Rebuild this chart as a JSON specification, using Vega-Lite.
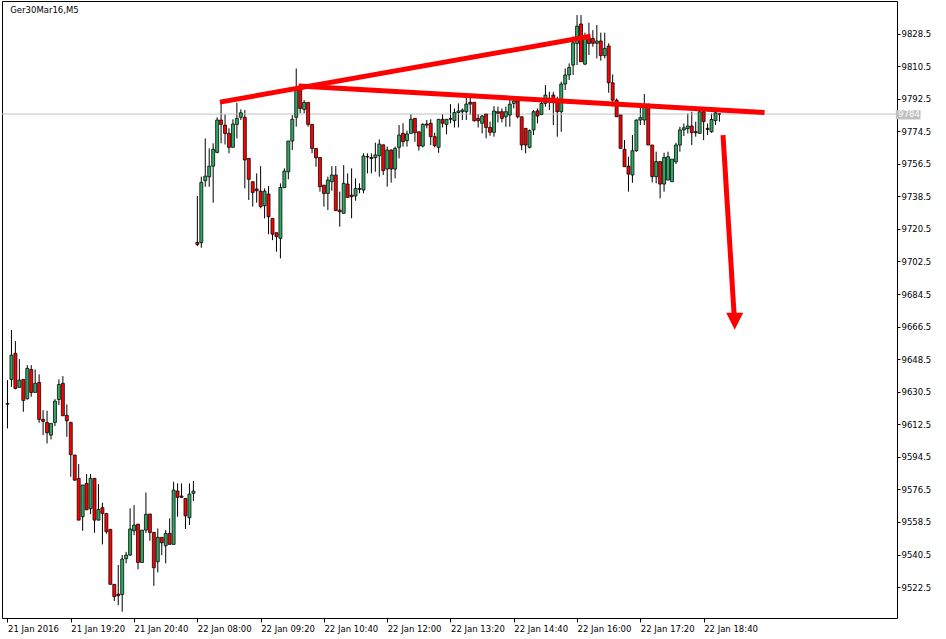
{
  "$schema": "https://vega.github.io/schema/vega-lite/v6.json",
  "width": 895,
  "height": 617,
  "autosize": {"type": "none"},
  "padding": {"left": 2, "top": 1, "right": 49, "bottom": 21},
  "background": "white",
  "config": {"view": {"stroke": "black", "strokeWidth": 1}, "font": "DejaVu Sans",
    "axis": {"domain": false, "grid": false, "tickColor": "black", "labelColor": "black", "labelFont": "DejaVu Sans", "labelFontSize": 8.5, "labelFlush": false, "labelOverlap": false, "labelBound": false}},
  "datasets": {
    "candles": [
      {"i":0,"o":9624.0,"h":9636.9,"l":9610.2,"c":9623.6},
      {"i":1,"o":9637.3,"h":9664.6,"l":9633.2,"c":9650.7},
      {"i":2,"o":9651.7,"h":9658.5,"l":9631.8,"c":9632.3},
      {"i":3,"o":9632.9,"h":9648.5,"l":9632.9,"c":9636.9},
      {"i":4,"o":9637.3,"h":9637.3,"l":9619.4,"c":9625.7},
      {"i":5,"o":9626.6,"h":9645.2,"l":9626.2,"c":9643.4},
      {"i":6,"o":9642.8,"h":9645.2,"l":9627.7,"c":9630.1},
      {"i":7,"o":9630.1,"h":9642.8,"l":9630.1,"c":9635.1},
      {"i":8,"o":9635.6,"h":9640.1,"l":9613.3,"c":9615.2},
      {"i":9,"o":9615.2,"h":9620.3,"l":9606.5,"c":9614.1},
      {"i":10,"o":9613.5,"h":9620.0,"l":9601.9,"c":9607.8},
      {"i":11,"o":9606.5,"h":9613.0,"l":9604.1,"c":9613.0},
      {"i":12,"o":9613.5,"h":9626.4,"l":9611.5,"c":9625.3},
      {"i":13,"o":9626.2,"h":9637.3,"l":9623.1,"c":9634.5},
      {"i":14,"o":9635.1,"h":9639.1,"l":9617.2,"c":9617.2},
      {"i":15,"o":9617.4,"h":9623.5,"l":9605.6,"c":9614.4},
      {"i":16,"o":9613.5,"h":9613.9,"l":9583.5,"c":9595.7},
      {"i":17,"o":9595.5,"h":9595.5,"l":9581.3,"c":9581.6},
      {"i":18,"o":9582.6,"h":9590.5,"l":9559.5,"c":9559.5},
      {"i":19,"o":9561.4,"h":9578.9,"l":9553.6,"c":9578.9},
      {"i":20,"o":9579.8,"h":9585.0,"l":9565.2,"c":9565.2},
      {"i":21,"o":9565.8,"h":9585.0,"l":9562.8,"c":9582.6},
      {"i":22,"o":9582.6,"h":9582.6,"l":9552.5,"c":9559.5},
      {"i":23,"o":9559.5,"h":9579.4,"l":9559.5,"c":9565.4},
      {"i":24,"o":9566.4,"h":9569.1,"l":9546.1,"c":9563.2},
      {"i":25,"o":9563.2,"h":9563.2,"l":9552.0,"c":9553.1},
      {"i":26,"o":9554.4,"h":9554.4,"l":9524.0,"c":9524.0},
      {"i":27,"o":9524.0,"h":9524.0,"l":9514.8,"c":9517.2},
      {"i":28,"o":9518.6,"h":9534.7,"l":9512.5,"c":9517.7},
      {"i":29,"o":9518.4,"h":9540.2,"l":9508.9,"c":9538.0},
      {"i":30,"o":9538.2,"h":9542.0,"l":9535.6,"c":9540.2},
      {"i":31,"o":9540.2,"h":9566.0,"l":9539.8,"c":9554.6},
      {"i":32,"o":9553.6,"h":9567.8,"l":9551.2,"c":9556.8},
      {"i":33,"o":9557.3,"h":9557.3,"l":9532.3,"c":9536.1},
      {"i":34,"o":9536.1,"h":9554.0,"l":9536.1,"c":9554.0},
      {"i":35,"o":9554.0,"h":9574.8,"l":9552.5,"c":9562.7},
      {"i":36,"o":9562.9,"h":9562.9,"l":9548.1,"c":9552.7},
      {"i":37,"o":9552.7,"h":9552.7,"l":9523.2,"c":9533.2},
      {"i":38,"o":9536.5,"h":9554.9,"l":9530.6,"c":9550.0},
      {"i":39,"o":9550.0,"h":9550.0,"l":9540.2,"c":9547.0},
      {"i":40,"o":9545.3,"h":9554.0,"l":9535.6,"c":9552.2},
      {"i":41,"o":9552.2,"h":9560.5,"l":9546.1,"c":9546.1},
      {"i":42,"o":9546.1,"h":9580.7,"l":9546.1,"c":9576.1},
      {"i":43,"o":9575.6,"h":9579.8,"l":9561.4,"c":9572.1},
      {"i":44,"o":9572.8,"h":9579.8,"l":9571.9,"c":9572.1},
      {"i":45,"o":9571.5,"h":9571.5,"l":9554.6,"c":9561.9},
      {"i":46,"o":9560.8,"h":9579.8,"l":9556.8,"c":9573.9},
      {"i":47,"o":9574.3,"h":9581.1,"l":9570.0,"c":9575.6},
      {"i":48,"o":9713.0,"h":9738.7,"l":9711.0,"c":9711.9},
      {"i":49,"o":9712.9,"h":9749.4,"l":9710.1,"c":9746.2},
      {"i":50,"o":9747.1,"h":9770.5,"l":9743.8,"c":9749.7},
      {"i":51,"o":9749.3,"h":9765.0,"l":9743.8,"c":9755.2},
      {"i":52,"o":9755.2,"h":9767.8,"l":9735.0,"c":9764.5},
      {"i":53,"o":9762.8,"h":9782.2,"l":9762.3,"c":9780.7},
      {"i":54,"o":9780.7,"h":9789.9,"l":9767.8,"c":9778.3},
      {"i":55,"o":9777.9,"h":9783.8,"l":9767.2,"c":9773.3},
      {"i":56,"o":9773.3,"h":9776.1,"l":9762.3,"c":9765.6},
      {"i":57,"o":9765.6,"h":9781.1,"l":9765.6,"c":9778.5},
      {"i":58,"o":9778.3,"h":9790.3,"l":9770.5,"c":9781.6},
      {"i":59,"o":9782.2,"h":9786.6,"l":9780.7,"c":9784.7},
      {"i":60,"o":9782.2,"h":9786.2,"l":9742.9,"c":9758.6},
      {"i":61,"o":9759.5,"h":9759.5,"l":9736.5,"c":9747.9},
      {"i":62,"o":9746.6,"h":9746.6,"l":9732.8,"c":9740.7},
      {"i":63,"o":9742.6,"h":9751.2,"l":9735.0,"c":9741.6},
      {"i":64,"o":9741.4,"h":9755.2,"l":9731.9,"c":9732.8},
      {"i":65,"o":9733.3,"h":9742.9,"l":9726.3,"c":9741.4},
      {"i":66,"o":9739.8,"h":9744.2,"l":9717.6,"c":9727.2},
      {"i":67,"o":9726.3,"h":9726.3,"l":9714.3,"c":9717.6},
      {"i":68,"o":9718.4,"h":9718.4,"l":9707.9,"c":9716.2},
      {"i":69,"o":9715.3,"h":9745.7,"l":9704.2,"c":9743.4},
      {"i":70,"o":9743.3,"h":9754.0,"l":9743.3,"c":9752.5},
      {"i":71,"o":9752.1,"h":9769.1,"l":9747.9,"c":9769.1},
      {"i":72,"o":9769.1,"h":9783.4,"l":9764.1,"c":9781.1},
      {"i":73,"o":9782.2,"h":9809.2,"l":9777.0,"c":9797.3},
      {"i":74,"o":9798.2,"h":9800.0,"l":9784.4,"c":9787.1},
      {"i":75,"o":9786.6,"h":9791.7,"l":9784.4,"c":9790.4},
      {"i":76,"o":9790.4,"h":9790.4,"l":9777.0,"c":9778.3},
      {"i":77,"o":9778.3,"h":9778.3,"l":9762.3,"c":9765.0},
      {"i":78,"o":9765.0,"h":9765.0,"l":9754.9,"c":9759.8},
      {"i":79,"o":9760.0,"h":9760.0,"l":9741.1,"c":9743.8},
      {"i":80,"o":9744.7,"h":9744.7,"l":9732.8,"c":9740.1},
      {"i":81,"o":9740.1,"h":9749.4,"l":9730.9,"c":9747.5},
      {"i":82,"o":9746.6,"h":9755.2,"l":9741.6,"c":9750.3},
      {"i":83,"o":9750.3,"h":9755.2,"l":9730.6,"c":9730.6},
      {"i":84,"o":9730.9,"h":9741.1,"l":9721.7,"c":9730.0},
      {"i":85,"o":9729.1,"h":9755.8,"l":9729.1,"c":9745.7},
      {"i":86,"o":9745.3,"h":9751.2,"l":9737.9,"c":9737.9},
      {"i":87,"o":9739.2,"h":9754.0,"l":9726.4,"c":9738.3},
      {"i":88,"o":9738.7,"h":9748.4,"l":9736.1,"c":9742.9},
      {"i":89,"o":9742.9,"h":9745.7,"l":9740.2,"c":9742.4},
      {"i":90,"o":9742.0,"h":9762.3,"l":9740.2,"c":9760.8},
      {"i":91,"o":9760.5,"h":9762.3,"l":9751.2,"c":9760.3},
      {"i":92,"o":9760.0,"h":9762.3,"l":9751.2,"c":9759.4},
      {"i":93,"o":9759.9,"h":9768.2,"l":9752.1,"c":9761.4},
      {"i":94,"o":9761.0,"h":9770.0,"l":9749.4,"c":9767.4},
      {"i":95,"o":9767.0,"h":9767.0,"l":9750.3,"c":9752.7},
      {"i":96,"o":9753.6,"h":9766.0,"l":9743.9,"c":9764.1},
      {"i":97,"o":9764.1,"h":9764.5,"l":9746.1,"c":9753.6},
      {"i":98,"o":9753.6,"h":9766.0,"l":9748.5,"c":9765.0},
      {"i":99,"o":9765.6,"h":9777.9,"l":9759.5,"c":9772.4},
      {"i":100,"o":9773.3,"h":9778.9,"l":9766.0,"c":9768.7},
      {"i":101,"o":9769.3,"h":9774.8,"l":9766.0,"c":9773.0},
      {"i":102,"o":9773.3,"h":9784.0,"l":9773.3,"c":9781.1},
      {"i":103,"o":9781.6,"h":9781.6,"l":9768.7,"c":9773.7},
      {"i":104,"o":9774.2,"h":9774.2,"l":9763.8,"c":9766.3},
      {"i":105,"o":9766.3,"h":9778.9,"l":9765.6,"c":9778.3},
      {"i":106,"o":9778.5,"h":9780.7,"l":9776.1,"c":9777.9},
      {"i":107,"o":9778.9,"h":9781.1,"l":9766.9,"c":9771.5},
      {"i":108,"o":9771.5,"h":9773.7,"l":9765.6,"c":9766.5},
      {"i":109,"o":9765.6,"h":9781.1,"l":9762.6,"c":9781.1},
      {"i":110,"o":9781.1,"h":9784.0,"l":9776.6,"c":9778.9},
      {"i":111,"o":9778.3,"h":9781.1,"l":9772.8,"c":9781.1},
      {"i":112,"o":9781.6,"h":9789.5,"l":9778.9,"c":9781.1},
      {"i":113,"o":9780.3,"h":9787.1,"l":9776.6,"c":9784.9},
      {"i":114,"o":9784.8,"h":9789.9,"l":9776.6,"c":9785.7},
      {"i":115,"o":9785.3,"h":9787.1,"l":9780.7,"c":9786.2},
      {"i":116,"o":9785.3,"h":9793.6,"l":9780.7,"c":9789.5},
      {"i":117,"o":9790.5,"h":9793.6,"l":9783.5,"c":9789.5},
      {"i":118,"o":9790.5,"h":9790.5,"l":9779.8,"c":9780.3},
      {"i":119,"o":9781.6,"h":9784.0,"l":9776.6,"c":9780.3},
      {"i":120,"o":9778.9,"h":9783.5,"l":9773.3,"c":9782.9},
      {"i":121,"o":9784.0,"h":9784.0,"l":9770.6,"c":9776.6},
      {"i":122,"o":9776.6,"h":9779.8,"l":9772.0,"c":9773.9},
      {"i":123,"o":9773.9,"h":9788.4,"l":9771.5,"c":9785.7},
      {"i":124,"o":9785.3,"h":9788.1,"l":9779.4,"c":9784.4},
      {"i":125,"o":9785.3,"h":9787.1,"l":9779.4,"c":9781.6},
      {"i":126,"o":9782.5,"h":9788.1,"l":9777.0,"c":9785.3},
      {"i":127,"o":9783.5,"h":9791.7,"l":9777.0,"c":9789.5},
      {"i":128,"o":9789.9,"h":9791.7,"l":9787.1,"c":9791.2},
      {"i":129,"o":9791.2,"h":9791.2,"l":9781.6,"c":9782.5},
      {"i":130,"o":9782.5,"h":9782.5,"l":9764.1,"c":9766.9},
      {"i":131,"o":9776.1,"h":9776.1,"l":9762.3,"c":9766.9},
      {"i":132,"o":9765.6,"h":9775.5,"l":9765.0,"c":9774.8},
      {"i":133,"o":9775.2,"h":9786.2,"l":9772.4,"c":9785.3},
      {"i":134,"o":9785.8,"h":9787.1,"l":9778.9,"c":9782.9},
      {"i":135,"o":9783.8,"h":9791.7,"l":9783.4,"c":9789.9},
      {"i":136,"o":9789.9,"h":9800.0,"l":9788.1,"c":9794.5},
      {"i":137,"o":9792.7,"h":9796.3,"l":9786.2,"c":9790.8},
      {"i":138,"o":9794.5,"h":9796.3,"l":9777.9,"c":9790.3},
      {"i":139,"o":9790.8,"h":9793.6,"l":9771.5,"c":9785.3},
      {"i":140,"o":9785.3,"h":9801.9,"l":9774.2,"c":9800.6},
      {"i":141,"o":9800.6,"h":9809.2,"l":9797.3,"c":9805.6},
      {"i":142,"o":9805.6,"h":9812.0,"l":9802.8,"c":9809.8},
      {"i":143,"o":9811.1,"h":9826.8,"l":9805.6,"c":9823.4},
      {"i":144,"o":9823.1,"h":9838.7,"l":9811.1,"c":9832.6},
      {"i":145,"o":9833.8,"h":9838.7,"l":9812.9,"c":9812.9},
      {"i":146,"o":9811.6,"h":9829.0,"l":9811.1,"c":9826.8},
      {"i":147,"o":9826.0,"h":9834.5,"l":9816.6,"c":9823.0},
      {"i":148,"o":9825.8,"h":9830.4,"l":9821.2,"c":9823.1},
      {"i":149,"o":9823.1,"h":9833.2,"l":9814.8,"c":9824.4},
      {"i":150,"o":9824.4,"h":9829.0,"l":9813.5,"c":9816.3},
      {"i":151,"o":9816.3,"h":9829.0,"l":9814.8,"c":9820.3},
      {"i":152,"o":9821.6,"h":9823.1,"l":9795.8,"c":9801.3},
      {"i":153,"o":9801.3,"h":9805.9,"l":9788.1,"c":9791.7},
      {"i":154,"o":9791.7,"h":9792.6,"l":9782.5,"c":9782.5},
      {"i":155,"o":9783.5,"h":9783.5,"l":9765.0,"c":9765.0},
      {"i":156,"o":9764.5,"h":9769.6,"l":9754.9,"c":9754.9},
      {"i":157,"o":9755.2,"h":9760.4,"l":9741.1,"c":9750.8},
      {"i":158,"o":9750.3,"h":9772.4,"l":9746.0,"c":9763.7},
      {"i":159,"o":9763.7,"h":9781.0,"l":9763.2,"c":9780.7},
      {"i":160,"o":9780.7,"h":9788.1,"l":9777.9,"c":9782.0},
      {"i":161,"o":9780.7,"h":9795.1,"l":9777.9,"c":9788.1},
      {"i":162,"o":9788.1,"h":9789.9,"l":9766.9,"c":9766.9},
      {"i":163,"o":9766.9,"h":9766.9,"l":9746.2,"c":9749.4},
      {"i":164,"o":9749.4,"h":9763.2,"l":9745.7,"c":9757.7},
      {"i":165,"o":9757.7,"h":9757.7,"l":9737.4,"c":9745.3},
      {"i":166,"o":9745.3,"h":9762.6,"l":9741.1,"c":9760.0},
      {"i":167,"o":9747.5,"h":9763.2,"l":9747.5,"c":9760.4},
      {"i":168,"o":9746.6,"h":9759.1,"l":9746.6,"c":9759.1},
      {"i":169,"o":9757.6,"h":9768.1,"l":9756.4,"c":9766.9},
      {"i":170,"o":9766.9,"h":9777.0,"l":9763.2,"c":9775.2},
      {"i":171,"o":9775.2,"h":9778.8,"l":9771.8,"c":9776.4},
      {"i":172,"o":9776.0,"h":9784.4,"l":9773.3,"c":9777.4},
      {"i":173,"o":9777.4,"h":9785.3,"l":9766.9,"c":9773.7},
      {"i":174,"o":9774.3,"h":9779.8,"l":9771.5,"c":9773.7},
      {"i":175,"o":9773.3,"h":9786.6,"l":9773.3,"c":9785.3},
      {"i":176,"o":9785.3,"h":9786.0,"l":9769.6,"c":9779.8},
      {"i":177,"o":9776.1,"h":9778.8,"l":9772.4,"c":9775.5},
      {"i":178,"o":9774.2,"h":9784.4,"l":9773.7,"c":9781.0},
      {"i":179,"o":9780.3,"h":9785.9,"l":9778.0,"c":9784.7},
      {"i":180,"o":9784.0,"h":9784.4,"l":9779.8,"c":9784.0}
    ],
    "lines": [
      {"g":"a","i":53.7,"p":9790.6},
      {"g":"a","i":147.4,"p":9827.0},
      {"g":"b","i":73.6,"p":9799.5},
      {"g":"b","i":191.4,"p":9784.8},
      {"g":"c","i":180.9,"p":9772.4},
      {"g":"c","i":183.7,"p":9673.4}
    ],
    "arrowhead": [{"i":183.85,"p":9669.4}],
    "bid": [{"p":9784.0,"label":"9784.0","i1":224.6,"i2":230.85,"ilab":225.2,"p1":9786.2,"p2":9781.0}],
    "caption": [{"i":0.7,"p":9839.7,"label":"Ger30Mar16,M5"}]
  },
  "layer": [
    {
      "data": {"name": "candles"},
      "mark": {"type": "rule", "color": "black", "strokeWidth": 1, "clip": true},
      "encoding": {
        "x": {"field": "i", "type": "quantitative",
          "scale": {"domain": [-0.125, 223.625], "nice": false, "zero": false},
          "axis": {"orient": "bottom", "values": [0,16,32,48,64,80,96,112,128,144,160,176], "tickCount": 40,
            "labelExpr": "['21 Jan 2016','21 Jan 19:20','21 Jan 20:40','22 Jan 08:00','22 Jan 09:20','22 Jan 10:40','22 Jan 12:00','22 Jan 13:20','22 Jan 14:40','22 Jan 16:00','22 Jan 17:20','22 Jan 18:40'][round(datum.value/16)]",
            "title": null, "tickSize": 4, "labelAlign": "left", "labelBaseline": "top", "labelPadding": 2, "labelDx": 0.5, "labelOverlap": false}},
        "y": {"field": "l", "type": "quantitative",
          "scale": {"domain": [9505.4, 9846.5], "nice": false, "zero": false},
          "axis": {"orient": "right",
            "values": [9522.5,9540.5,9558.5,9576.5,9594.5,9612.5,9630.5,9648.5,9666.5,9684.5,9702.5,9720.5,9738.5,9756.5,9774.5,9792.5,9810.5,9828.5], "tickCount": 40,
            "format": ".1f", "title": null, "tickSize": 3, "labelPadding": 1, "labelBaseline": "middle", "labelOverlap": false, "labelSeparation": 0}},
        "y2": {"field": "h"}
      }
    },
    {
      "data": {"name": "bid"},
      "mark": {"type": "rule", "color": "#c0c0c0", "strokeWidth": 1},
      "encoding": {
        "y": {"field": "p", "type": "quantitative"}
      }
    },
    {
      "data": {"name": "candles"},
      "mark": {"type": "bar", "width": 3, "stroke": "black", "strokeWidth": 0.75, "clip": true},
      "encoding": {
        "x": {"field": "i", "type": "quantitative"},
        "y": {"field": "o", "type": "quantitative"},
        "y2": {"field": "c"},
        "fill": {"condition": {"test": "datum.c < datum.o", "value": "#ff0000"}, "value": "#2ea862"}
      }
    },
    {
      "data": {"name": "lines"},
      "mark": {"type": "line", "color": "#ff0000", "strokeWidth": 5, "strokeCap": "butt", "clip": false},
      "encoding": {
        "x": {"field": "i", "type": "quantitative"},
        "y": {"field": "p", "type": "quantitative"},
        "detail": {"field": "g"}
      }
    },
    {
      "data": {"name": "arrowhead"},
      "mark": {"type": "point", "shape": "M-1,-1L1,-1L0,1Z", "size": 289, "filled": true, "color": "#ff0000", "opacity": 1, "strokeWidth": 0, "clip": false},
      "encoding": {
        "x": {"field": "i", "type": "quantitative"},
        "y": {"field": "p", "type": "quantitative"}
      }
    },
    {
      "data": {"name": "bid"},
      "mark": {"type": "rect", "color": "#c0c0c0", "clip": false},
      "encoding": {
        "x": {"field": "i1", "type": "quantitative"},
        "x2": {"field": "i2"},
        "y": {"field": "p1", "type": "quantitative"},
        "y2": {"field": "p2"}
      }
    },
    {
      "data": {"name": "bid"},
      "mark": {"type": "text", "color": "white", "align": "left", "baseline": "middle", "font": "DejaVu Sans", "fontSize": 8.5, "clip": false},
      "encoding": {
        "x": {"field": "ilab", "type": "quantitative"},
        "y": {"field": "p", "type": "quantitative"},
        "text": {"field": "label"}
      }
    },
    {
      "data": {"name": "caption"},
      "mark": {"type": "text", "color": "black", "align": "left", "baseline": "alphabetic", "font": "DejaVu Sans", "fontSize": 8.5, "clip": false},
      "encoding": {
        "x": {"field": "i", "type": "quantitative"},
        "y": {"field": "p", "type": "quantitative"},
        "text": {"field": "label"}
      }
    }
  ]
}
